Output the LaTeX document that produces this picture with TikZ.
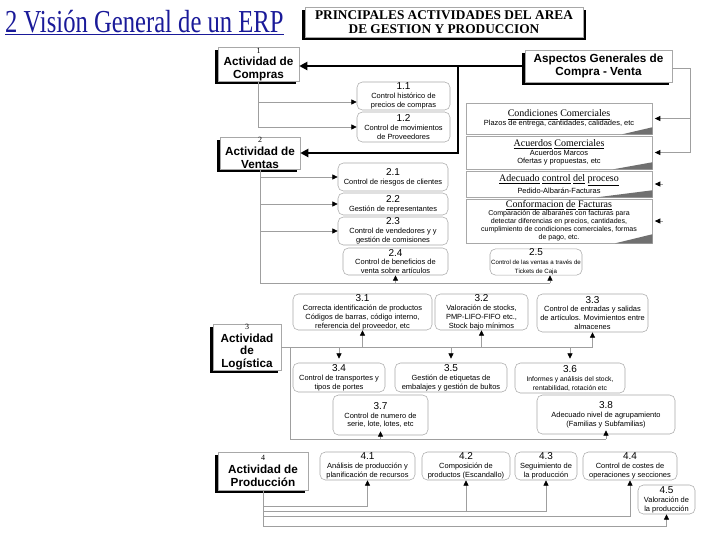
\documentclass[tikz,border=0pt]{standalone}
\usepackage{fontspec}
\setmainfont{Liberation Serif}
\setsansfont{Liberation Sans}
\usetikzlibrary{arrows.meta,shadows}
\definecolor{ttlblue}{HTML}{1A1A99}
\definecolor{boxgray}{HTML}{A8A8A8}
\definecolor{wedgegray}{HTML}{707070}
\newcommand{\subnum}{\fontsize{7.5}{8}\selectfont}
\newcommand{\notehead}{\rmfamily\fontsize{7.5}{9}\selectfont}
\newcommand{\actnum}{\rmfamily\mdseries\fontsize{6}{7}\selectfont}
\tikzstyle{actbox}=[draw=boxgray, fill=white, align=center, inner sep=0, font=\sffamily\bfseries\fontsize{8.8}{9.6}\selectfont, drop shadow={shadow xshift=-2.2pt, shadow yshift=-2.2pt, fill=black, opacity=1}]
\tikzstyle{sub}=[draw=boxgray, rounded corners=4pt, fill=white, align=center, inner sep=0, font=\sffamily\fontsize{5.6}{6.7}\selectfont]
\tikzstyle{note}=[draw=boxgray, fill=white, align=center, inner sep=0, minimum width=139.5pt, font=\sffamily\fontsize{5.6}{6.4}\selectfont]
\tikzstyle{wire}=[draw=gray!75, line width=0.5pt]
\tikzstyle{link}=[draw=gray!75, line width=0.5pt, -{Triangle[color=black, length=4pt, width=3.8pt]}]
\tikzstyle{bus}=[line width=1.9pt, -{Triangle[length=6pt, width=6pt]}]

\begin{document}
\begin{tikzpicture}[x=0.75pt, y=-0.75pt]

\useasboundingbox (0,0) rectangle (720,540);
\fill[white] (0,0) rectangle (720,540);

% heading and title
\node [anchor=base west, inner sep=0, text=ttlblue, font=\fontsize{24}{26}\selectfont, xscale=0.77] (hd) at (5,32) {\underline{2 Visión General de un ERP}};
\node [actbox, font=\rmfamily\bfseries\fontsize{10}{11}\selectfont, minimum width=208.5pt, minimum height=22.5pt, drop shadow={shadow xshift=2.4pt, shadow yshift=-2.4pt, fill=black, opacity=1}] (ttl) at (444,22) {PRINCIPALES ACTIVIDADES DEL AREA\\DE GESTION Y PRODUCCION};

% main activities
\node [actbox, minimum width=60.75pt, minimum height=25.5pt] (act1) at (258.5,64.5) {{\actnum 1}\\[-1pt]Actividad de\\Compras};
\node [actbox, minimum width=60pt, minimum height=24pt] (act2) at (260,153) {{\actnum 2}\\Actividad de\\Ventas};
\node [actbox, minimum width=51pt, minimum height=33.75pt] (act3) at (247,347) {{\actnum 3}\\Actividad\\de\\Logística};
\node [actbox, minimum width=67.5pt, minimum height=28.5pt] (act4) at (263,471) {{\actnum 4}\\Actividad de\\Producción};
\node [actbox, minimum width=110.25pt, minimum height=24pt] (asp) at (598.5,66) {Aspectos Generales de\\Compra - Venta};

% compras
\node [sub, minimum width=69.75pt, minimum height=21pt] (s11) at (403.5,96) {{\subnum 1.1}\\Control histórico de\\precios de compras};
\node [sub, minimum width=69.75pt, minimum height=22.5pt] (s12) at (403.5,127) {{\subnum 1.2}\\Control de movimientos\\de Proveedores};

% ventas
\node [sub, minimum width=82.5pt, minimum height=21pt] (s21) at (393,177) {{\subnum 2.1}\\Control de riesgos de clientes};
\node [sub, minimum width=82.5pt, minimum height=16.5pt] (s22) at (393,204) {{\subnum 2.2}\\Gestión de representantes};
\node [sub, minimum width=82.5pt, minimum height=21pt] (s23) at (393,231) {{\subnum 2.3}\\Control de vendedores y y\\gestión de comisiones};
\node [sub, minimum width=78.75pt, minimum height=20.25pt] (s24) at (395.5,261.5) {{\subnum 2.4}\\Control de beneficios de\\venta sobre artículos};
\node [sub, minimum width=69pt, minimum height=19.5pt, font=\sffamily\fontsize{4.6}{6.7}\selectfont] (s25) at (536,262) {{\subnum 2.5}\\Control de las ventas a través de\\Tickets de Caja};

% aspectos generales
\node [note, minimum height=23.25pt] (cc) at (559,118.5) {{\notehead\underline{Condiciones} \underline{Comerciales}}\\Plazos de entrega, cantidades, calidades, etc};
\node [note, minimum height=24.75pt] (ac) at (559,152.5) {{\notehead\underline{Acuerdos} \underline{Comerciales}}\\Acuerdos Marcos\\Ofertas y propuestas, etc};
\node [note, minimum height=19.5pt] (ad) at (559,184) {{\notehead\underline{Adecuado} \underline{control} \underline{del} \underline{proceso}}\\Pedido-Albarán-Facturas};
\node [note, minimum height=33pt, font=\sffamily\fontsize{5.3}{6}\selectfont] (cf) at (559,221) {{\notehead\underline{Conformacion} \underline{de} \underline{Facturas}}\\Comparación de albaranes con facturas para\\detectar diferencias en precios, cantidades,\\cumplimiento de condiciones comerciales, formas\\de pago, etc.};

\fill [wedgegray] (cc.south east) -- ++(0,-7) -- ++(-30,7) -- cycle;
\fill [wedgegray] (ac.south east) -- ++(0,-7) -- ++(-39,7) -- cycle;
\fill [wedgegray] (ad.south east) -- ++(0,-7) -- ++(-55,7) -- cycle;
\fill [wedgegray] (cf.south east) -- ++(0,-9) -- ++(-37,9) -- cycle;

% logistica
\node [sub, minimum width=104.25pt, minimum height=27pt] (s31) at (362.5,312) {{\subnum 3.1}\\Correcta identificación de productos\\Códigos de barras, código interno,\\referencia del proveedor, etc};
\node [sub, minimum width=69.75pt, minimum height=27pt] (s32) at (481.5,312) {{\subnum 3.2}\\Valoración de stocks,\\PMP-LIFO-FIFO etc.,\\Stock bajo mínimos};
\node [sub, minimum width=83.25pt, minimum height=28.5pt] (s33) at (592.5,313) {{\subnum 3.3}\\Control de entradas y salidas\\de artículos. Movimientos entre\\almacenes};
\node [sub, minimum width=69pt, minimum height=21.75pt] (s34) at (339,377.5) {{\subnum 3.4}\\Control de transportes y\\tipos de portes};
\node [sub, minimum width=84pt, minimum height=21.75pt] (s35) at (451,377.5) {{\subnum 3.5}\\Gestión de etiquetas de\\embalajes y gestión de bultos};
\node [sub, minimum width=82.5pt, minimum height=22.5pt, font=\sffamily\fontsize{5.1}{6.7}\selectfont] (s36) at (570,378) {{\subnum 3.6}\\Informes y análisis del stock,\\rentabilidad, rotación etc};
\node [sub, minimum width=71.25pt, minimum height=30pt] (s37) at (380.5,415) {{\subnum 3.7}\\Control de numero de\\serie, lote, lotes, etc};
\node [sub, minimum width=103.5pt, minimum height=29.25pt] (s38) at (606,414.5) {{\subnum 3.8}\\Adecuado nivel de agrupamiento\\(Familias y Subfamilias)};

% produccion
\node [sub, minimum width=71.25pt, minimum height=21pt] (s41) at (367.5,466) {{\subnum 4.1}\\Análisis de producción y\\planificación de recursos};
\node [sub, minimum width=66pt, minimum height=21pt] (s42) at (466,466) {{\subnum 4.2}\\Composición de\\productos (Escandallo)};
\node [sub, minimum width=46.5pt, minimum height=21pt] (s43) at (546,466) {{\subnum 4.3}\\Seguimiento de\\la producción};
\node [sub, minimum width=70.5pt, minimum height=21pt] (s44) at (630,466) {{\subnum 4.4}\\Control de costes de\\operaciones y secciones};
\node [sub, minimum width=42.75pt, minimum height=21.75pt] (s45) at (666.5,499.5) {{\subnum 4.5}\\Valoración de\\la producción};

% thick links from aspectos generales
\coordinate (j1) at (458,66);
\draw [bus] (asp.west) -- (asp.west -| act1.east);
\draw [bus] (j1) |- (act2.east);

% compras links
\draw [link] (act1.south) |- ([yshift=-4.5pt]s11.west);
\draw [link] (act1.south) |- (s12.west);

% ventas links
\coordinate (c2) at (550,283);
\draw [link] (act2.south) |- (s21.west);
\draw [link] (act2.south) |- (s22.west);
\draw [link] (act2.south) |- (s23.west);
\draw [wire] (act2.south) |- (c2);
\draw [link] (s24.south |- c2) -- (s24.south);
\draw [link] (c2) -- (c2 |- s25.south);

% right side links
\coordinate (c3) at (690,68);
\draw [wire] (asp.east |- c3) -- (c3) -- (c3 |- ac.east);
\draw [link, shorten >=2pt] (c3 |- cc.east) -- (cc.east);
\draw [link, shorten >=2pt] (c3 |- ac.east) -- (ac.east);
\draw [link, shorten >=2pt] ([xshift=8pt]ad.east) -- (ad.east);
\draw [link, shorten >=2pt] ([xshift=8pt]cf.east) -- (cf.east);

% logistica links
\coordinate (c5) at (290,439);
\draw [wire] (act3.east) -- (act3.east -| s33.south);
\draw [link] (s31.south |- act3.east) -- (s31.south);
\draw [link] (s32.south |- act3.east) -- (s32.south);
\draw [link] (s33.south |- act3.east) -- (s33.south);
\draw [link, shorten >=3pt] (s34.north |- act3.east) -- (s34.north);
\draw [link, shorten >=3pt] (s35.north |- act3.east) -- (s35.north);
\draw [link, shorten >=3pt] (s36.north |- act3.east) -- (s36.north);
\draw [wire] (act3.east -| c5) -- (c5) -- (c5 -| s38.south);
\draw [link] (s37.south |- c5) -- ([yshift=3pt]s37.south);
\draw [link] (s38.south |- c5) -- ([yshift=3pt]s38.south);

% produccion links
\coordinate (p1) at (263,506);
\coordinate (p2) at (263,511);
\coordinate (p3) at (263,516);
\coordinate (p4) at (263,526);
\draw [wire] (act4.south) -- (p4);
\draw [link] (p1) -| (s41.south);
\draw [link] (p2) -| (s43.south);
\draw [link] (s42.south |- p2) -- (s42.south);
\draw [link] (p3) -| (s44.south);
\draw [link] (p4) -| (s45.south);

\end{tikzpicture}
\end{document}
